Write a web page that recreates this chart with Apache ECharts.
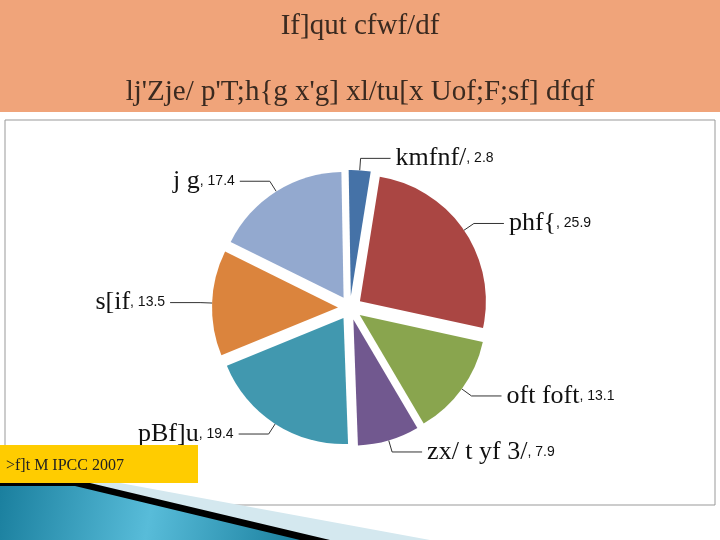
<!DOCTYPE html>
<html>
<head>
<meta charset="utf-8">
<script src="https://cdn.jsdelivr.net/npm/echarts@6/dist/echarts.min.js"></script>
<style>
  html, body { margin: 0; padding: 0; background: #fff; }
  #main { width: 720px; height: 540px; }
</style>
</head>
<body>
<div id="main"></div>
<script>
const titleLines = ["If]qut cfwf/df", "lj'Zje/ p'T;h{g x'g] xl/tu[x Uof;F;sf] dfqf"];
const names = ['kmfnf/', 'phf{', 'oft foft', 'zx/ t yf 3/', 'pBf]u', 's[if', 'j g'];
const values = [2.8, 25.9, 13.1, 7.9, 19.4, 13.5, 17.4];
const colors = ['#4572A7', '#AA4643', '#89A54E', '#71588F', '#4198AF', '#DB843D', '#93A9CF'];
const sourceText = '>f]t M IPCC 2007';

const chart = echarts.init(document.getElementById('main'));
chart.setOption({
  animation: false,
  graphic: [
    { type: 'rect', shape: { x: 0, y: 0, width: 720, height: 112 }, style: { fill: '#F0A47A' } },
    { type: 'text', left: 'center', top: 12, style: { text: titleLines[0], font: '29px "Liberation Serif"', fill: '#3a2a20' } },
    { type: 'text', left: 'center', top: 78, style: { text: titleLines[1], font: '29px "Liberation Serif"', fill: '#3a2a20' } },
    { type: 'rect', shape: { x: 5, y: 120, width: 710, height: 385 }, style: { fill: '#fff', stroke: '#999', lineWidth: 1 }, z: 0 },
    { type: 'polygon', shape: { points: [[0, 483], [120, 483], [430, 540], [0, 540]] }, style: { fill: '#D4E8EF' } },
    { type: 'polygon', shape: { points: [[0, 483], [90, 483], [330, 540], [0, 540]] }, style: { fill: '#000' } },
    { type: 'polygon', shape: { points: [[0, 486], [75, 486], [300, 540], [0, 540]] },
      style: { fill: new echarts.graphic.LinearGradient(0, 0, 1, 1, [{ offset: 0, color: '#1A7F9E' }, { offset: 0.5, color: '#58BCD9' }, { offset: 1, color: '#1A7F9E' }]) } },
    { type: 'rect', shape: { x: 0, y: 445, width: 198, height: 38 }, style: { fill: '#FFCC00' }, z: 100 },
    { type: 'text', left: 6, top: 458, z: 101, style: { text: sourceText, font: '16px "Liberation Serif"', fill: '#222' } }
  ],
  series: [{
    type: 'pie',
    center: [350, 308],
    radius: 126,
    startAngle: 91,
    selectedMode: 'multiple',
    selectedOffset: 12,
    avoidLabelOverlap: false,
    z: 5,
    data: names.map((n, i) => ({ name: n, value: values[i], selected: true, itemStyle: { color: colors[i] } })),
    label: {
      formatter: p => '{n|' + p.name + '}{v|, ' + p.value + '}',
      rich: {
        n: { fontFamily: 'Liberation Sans Narrow', fontSize: 26, color: '#111' },
        v: { fontFamily: 'Liberation Sans', fontSize: 14, color: '#111' }
      }
    },
    labelLine: { show: true, length: 12, length2: 30, lineStyle: { color: '#333', width: 1 } }
  }]
});
</script>
</body>
</html>
